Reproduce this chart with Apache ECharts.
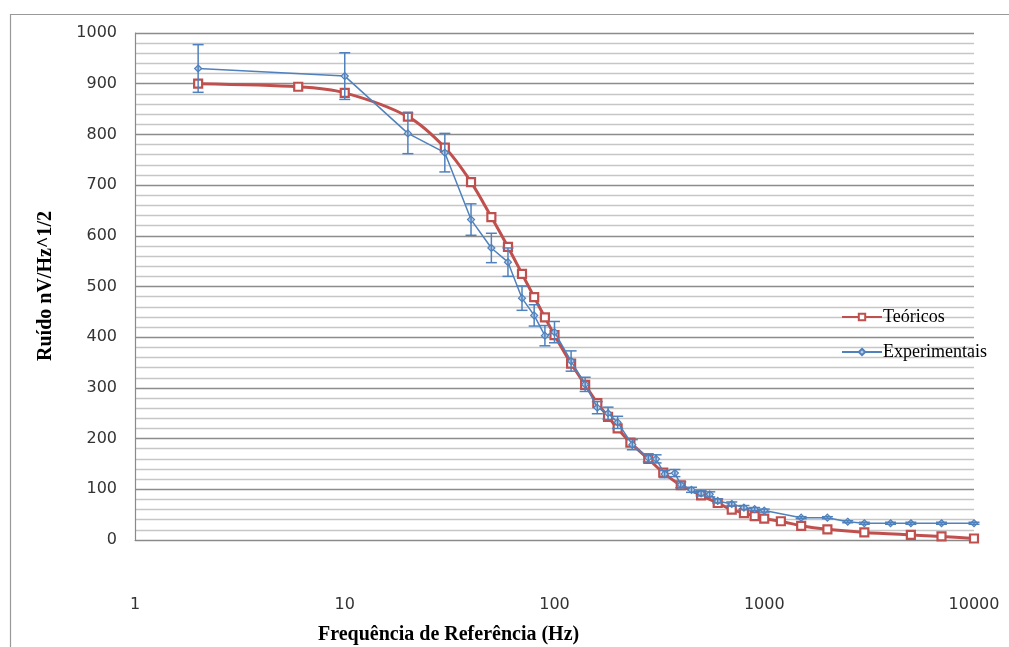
<!DOCTYPE html>
<html>
<head>
<meta charset="utf-8">
<script src="https://cdn.jsdelivr.net/npm/echarts@6/dist/echarts.min.js"></script>
<style>
html,body{margin:0;padding:0;background:#fff;}
#chart{width:1009px;height:647px;}
</style>
</head>
<body>
<div id="chart"></div>
<script>
// Theoretical (Teóricos)
var theoFreq = [2, 6, 10, 20, 30, 40, 50, 60, 70, 80, 90, 100, 120, 140, 160, 180, 200, 230, 280, 330, 400, 500, 600, 700, 800, 900, 1000, 1200, 1500, 2000, 3000, 5000, 7000, 10000];
var theoVals = [900, 894, 882, 835, 774, 706, 637, 578, 525, 479, 439, 404, 348, 306, 270, 243, 220, 192, 160, 133, 108, 88, 73, 60, 53, 47, 42, 37, 28, 21, 15, 10, 7, 3];
// Experimental (Experimentais)
var expFreq = [2, 10, 20, 30, 40, 50, 60, 70, 80, 90, 100, 120, 140, 160, 180, 200, 235, 280, 305, 335, 375, 400, 450, 500, 550, 600, 700, 800, 900, 1000, 1500, 2000, 2500, 3000, 4000, 5000, 7000, 10000];
var expVals = [930, 915, 802, 764, 632, 576, 548, 477, 443, 403, 410, 353, 307, 261, 250, 232, 188, 162, 160, 130, 132, 109, 99, 92, 90, 77, 71, 64, 61, 58, 44, 44, 36, 33, 33, 33, 33, 33];
var expErr = [47, 46, 40, 38, 31, 29, 28, 24, 21, 20, 21, 20, 14, 12, 12, 12, 10, 8, 8, 7, 7, 6, 5, 5, 5, 4, 4, 4, 3, 3, 2, 2, 2, 2, 2, 2, 2, 2];
// Axis tick labels
var yTicks = [0, 100, 200, 300, 400, 500, 600, 700, 800, 900, 1000];
var xTicks = [1, 10, 100, 1000, 10000];

var theoData = theoFreq.map(function (f, i) { return [f, theoVals[i]]; });
var expData = expFreq.map(function (f, i) { return [f, expVals[i]]; });
var errData = expFreq.map(function (f, i) { return [f, expVals[i] - expErr[i], expVals[i] + expErr[i]]; });

var chart = echarts.init(document.getElementById('chart'));
chart.setOption({
  animation: false,
  backgroundColor: '#ffffff',
  grid: { left: 135, right: 35, top: 33, bottom: 107, containLabel: false },
  xAxis: {
    type: 'log', logBase: 10, min: xTicks[0], max: xTicks[xTicks.length - 1],
    axisLine: { show: true, lineStyle: { color: '#8a8a8a', width: 1.2 } },
    axisTick: { show: false },
    splitLine: { show: false },
    axisLabel: { margin: 57, fontFamily: 'DejaVu Sans', fontSize: 16, color: '#333',
      formatter: function (v) { return String(v); } }
  },
  yAxis: {
    type: 'value', min: yTicks[0], max: yTicks[yTicks.length - 1], interval: 100,
    axisLine: { show: true, lineStyle: { color: '#8a8a8a', width: 1.2 } },
    axisTick: { show: false },
    axisLabel: { margin: 18, fontFamily: 'DejaVu Sans', fontSize: 16, color: '#333',
      formatter: function (v) { return String(v); } },
    splitLine: { show: true, lineStyle: { color: '#8c8c8c', width: 1.3 } },
    minorTick: { show: false, splitNumber: 5 },
    minorSplitLine: { show: true, lineStyle: { color: '#c6c6c6', width: 1.3 } }
  },
  legend: {
    orient: 'vertical', left: 836, top: 303, itemGap: 17, itemWidth: 40, itemHeight: 8,
    data: ['Teóricos', 'Experimentais'],
    textStyle: { fontFamily: 'Liberation Serif', fontSize: 18, color: '#000', padding: [0, 0, 0, -4] }
  },
  graphic: [
    { type: 'rect', left: 8, top: 12, shape: { width: 1100, height: 700 }, style: { fill: 'none', stroke: '#999', lineWidth: 1.2 }, silent: true },
    { type: 'text', left: 318, top: 625, style: { text: 'Frequência de Referência (Hz)', font: 'bold 20px "Liberation Serif"', fill: '#000' } },
    { type: 'text', x: 46, y: 286, rotation: Math.PI / 2, style: { text: 'Ruído nV/Hz^1/2', font: 'bold 20px "Liberation Serif"', fill: '#000', align: 'center', verticalAlign: 'middle' } }
  ],
  series: [
    {
      name: 'Experimentais', type: 'line', data: expData, z: 3,
      lineStyle: { color: '#4F81BD', width: 1.5 },
      itemStyle: { color: '#b9cde5', borderColor: '#4F81BD', borderWidth: 1.2 },
      symbol: 'diamond', symbolSize: 7, showSymbol: true
    },
    {
      name: 'ErrBars', type: 'custom', data: errData, z: 4,
      renderItem: function (params, api) {
        var x = api.value(0);
        var lo = api.coord([x, api.value(1)]);
        var hi = api.coord([x, api.value(2)]);
        var hw = 5.5;
        var st = { stroke: '#4F81BD', lineWidth: 1.5 };
        return { type: 'group', children: [
          { type: 'line', shape: { x1: lo[0], y1: lo[1], x2: hi[0], y2: hi[1] }, style: st },
          { type: 'line', shape: { x1: lo[0] - hw, y1: lo[1], x2: lo[0] + hw, y2: lo[1] }, style: st },
          { type: 'line', shape: { x1: hi[0] - hw, y1: hi[1], x2: hi[0] + hw, y2: hi[1] }, style: st }
        ] };
      }
    },
    {
      name: 'Teóricos', type: 'line', data: theoData, z: 2, smooth: 0.3,
      lineStyle: { color: '#C0504D', width: 3 },
      itemStyle: { color: '#ffffff', borderColor: '#C0504D', borderWidth: 2.2 },
      symbol: 'rect', symbolSize: 8, showSymbol: true
    }
  ]
});
</script>
</body>
</html>
